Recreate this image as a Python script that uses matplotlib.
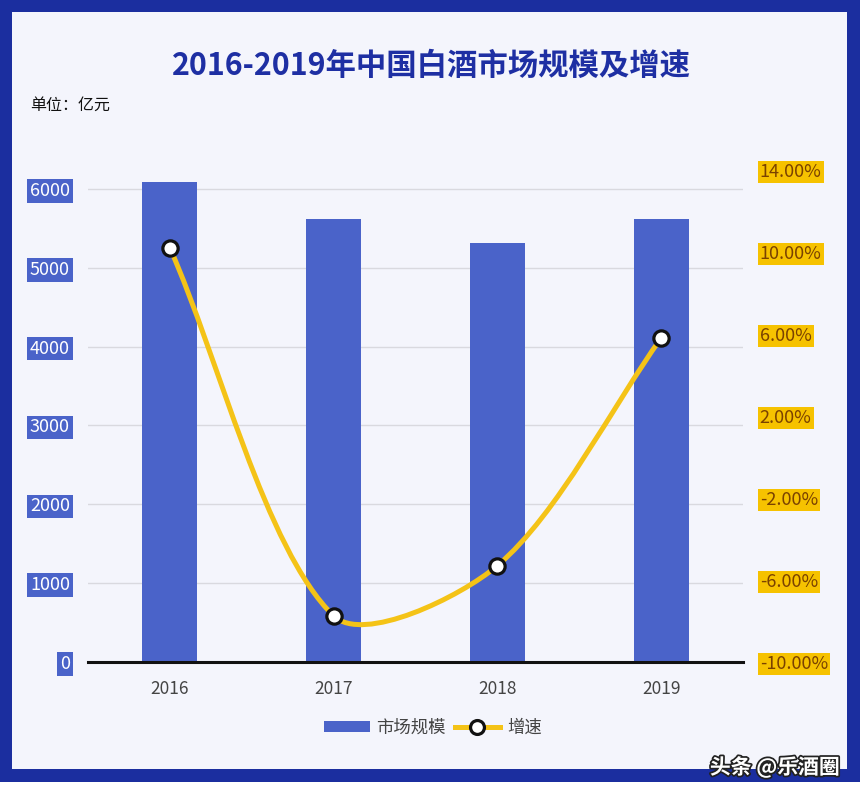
import numpy as np
import matplotlib
matplotlib.use("Agg")
import matplotlib.pyplot as plt
from matplotlib.patches import Rectangle, Patch
from matplotlib.lines import Line2D
from matplotlib.path import Path
from matplotlib.patches import PathPatch
import matplotlib.patheffects as pe

plt.rcParams['font.family'] = ['Noto Sans CJK SC', 'DejaVu Sans']

# 数据
years = ['2016', '2017', '2018', '2019']
scale = [6090, 5620, 5315, 5620]          # 市场规模（亿元）
growth = [10.2, -7.75, -5.3, 5.8]         # 增速（%）
left_ticks = [0, 1000, 2000, 3000, 4000, 5000, 6000]
right_ticks = [-10, -6, -2, 2, 6, 10, 14]

W, H = 860, 797
fig = plt.figure(figsize=(W / 100, H / 100), dpi=100)
fig.patch.set_facecolor('white')

# 边框和背景
def fx(px): return px / W
def fy(py): return 1 - py / H

fig.add_artist(Rectangle((0, fy(782)), 1, 1 - fy(782), transform=fig.transFigure,
                         fc='#1b2e9f', ec='none', zorder=-10))
fig.add_artist(Rectangle((fx(12), fy(769)), fx(847) - fx(12), fy(12) - fy(769),
                         transform=fig.transFigure, fc='#f4f5fc', ec='none', zorder=-9))

ax_l, ax_r, ax_t, ax_b = 88, 743, 170, 662
ax = fig.add_axes([fx(ax_l), fy(ax_b), fx(ax_r) - fx(ax_l), fy(ax_t) - fy(ax_b)])
ax.set_facecolor('none')

x = np.arange(len(years))
ax.bar(x, scale, width=0.335, color='#4a63c9', zorder=2)
ax.set_xlim(-0.5, 3.5)
ax.set_ylim(0, 6241)
ax.set_yticks(left_ticks)
ax.set_yticklabels([str(t) for t in left_ticks])
ax.set_xticks(x)
ax.set_xticklabels(years)
ax.set_axisbelow(True)
ax.grid(axis='y', color='#d9d9df', lw=1)
for s in ['top', 'left', 'right']:
    ax.spines[s].set_visible(False)
ax.spines['bottom'].set_color('#111111')
ax.spines['bottom'].set_linewidth(2.2)
ax.tick_params(axis='x', length=0, pad=13, labelsize=12.5, labelcolor='#444444')
ax.tick_params(axis='y', length=0, pad=13, labelsize=13, labelcolor='white')
for lab in ax.get_yticklabels():
    lab.set_bbox(dict(boxstyle='square,pad=0.15', fc='#4a63c9', ec='none'))

ax2 = ax.twinx()
ax2.set_ylim(-10, 14)
ax2.set_yticks(right_ticks)
ax2.set_yticklabels(['%.2f%%' % t for t in right_ticks])
ax2.tick_params(axis='y', length=0, pad=12, labelsize=13, labelcolor='#7a4200')
for lab in ax2.get_yticklabels():
    lab.set_bbox(dict(boxstyle='square,pad=0.12', fc='#f6c200', ec='none'))
for s in ax2.spines.values():
    s.set_visible(False)

# 平滑曲线：贝塞尔控制点在像素空间计算
pw, ph = ax_r - ax_l, ax_b - ax_t
px = (x + 0.5) / 4 * pw
py = (np.array(growth) + 10) / 24 * ph
pts = np.column_stack([px, py])
smooth = 0.3
n = len(pts)
verts = [tuple(pts[0])]
codes = [Path.MOVETO]
cp0 = pts[0]
for i in range(n):
    prev = pts[max(i - 1, 0)]
    nxt = pts[min(i + 1, n - 1)]
    p = pts[i]
    v = nxt - prev
    l0 = np.hypot(*(p - prev))
    l1 = np.hypot(*(nxt - p))
    r = l1 / (l0 + l1)
    cp1 = p - v * smooth * (1 - r)
    if i > 0:
        verts += [tuple(cp0), tuple(cp1), tuple(p)]
        codes += [Path.CURVE4] * 3
    cp0 = p + v * smooth * r
verts = np.array(verts)
dverts = np.column_stack([verts[:, 0] / pw * 4 - 0.5, verts[:, 1] / ph * 24 - 10])
ax2.add_patch(PathPatch(Path(dverts, codes), fc='none', ec='#f4c317', lw=3.6,
                        capstyle='round', zorder=3))
ax2.plot(x, growth, ls='none', marker='o', ms=11, mfc='white', mec='#111111',
         mew=2.3, zorder=4)

# 标题
fig.text(fx(431), fy(66), '2016-2019年中国白酒市场规模及增速', ha='center', va='center',
         fontsize=21.9, fontweight='bold', color='#1e2fa3')
fig.text(fx(30), fy(105), '单位：亿元', ha='left', va='center', fontsize=11.5, color='#111111')

# 图例
handles = [Patch(fc='#4a63c9', ec='none'),
           Line2D([], [], color='#f4c317', lw=3.6, marker='o', ms=10, mfc='white',
                  mec='#111111', mew=2.3)]
fig.legend(handles, ['市场规模', '增速'], loc='center', bbox_to_anchor=(fx(433), fy(728)),
           ncol=2, frameon=False, fontsize=12.5, labelcolor='#444444',
           handlelength=2.6, handleheight=0.6, handletextpad=0.4, columnspacing=0.5)

# 水印
fig.text(fx(840), fy(767), '头条 @乐酒圈', ha='right', va='center', fontsize=15,
         fontweight='bold', color='white',
         path_effects=[pe.withStroke(linewidth=2.5, foreground='#222222')])

fig.savefig('out.png', dpi=100, facecolor=fig.get_facecolor())
